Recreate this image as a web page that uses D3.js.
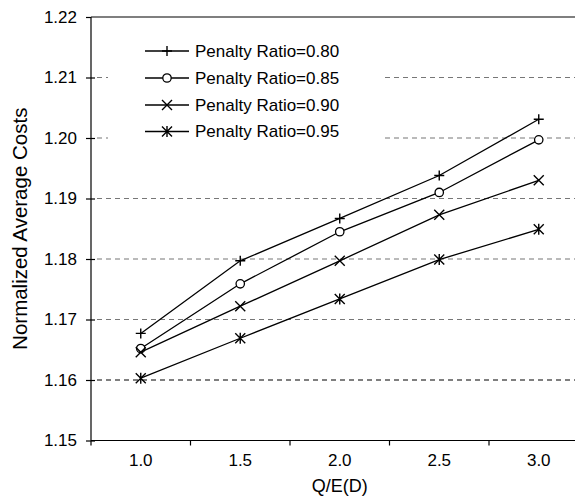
<!DOCTYPE html>
<html><head><meta charset="utf-8">
<script src="https://cdn.jsdelivr.net/npm/d3@7"></script>
<style>body{margin:0;background:#fff}svg{display:block;font-family:"Liberation Sans",Arial,sans-serif}</style>
</head><body><svg id="c" width="575" height="499"></svg>
<script>
const categories = ["1.0","1.5","2.0","2.5","3.0"];
const seriesNames = ["Penalty Ratio=0.80","Penalty Ratio=0.85","Penalty Ratio=0.90","Penalty Ratio=0.95"];
const markers = ["plus","circle","cross","star"];
const s080 = [1.1677,1.1797,1.1867,1.1938,1.2031];
const s085 = [1.1652,1.1759,1.1845,1.1910,1.1997];
const s090 = [1.1646,1.1722,1.1797,1.1873,1.1930];
const s095 = [1.1603,1.1669,1.1734,1.1799,1.1849];
const yTicks = [1.15,1.16,1.17,1.18,1.19,1.20,1.21,1.22];
const series = [s080,s085,s090,s095];

const svg = d3.select("#c");
const L=91, R=588.5, T=17, B=440.5;
const x = d3.scaleBand().domain(categories).range([L,R]).padding(0);
const y = d3.scaleLinear().domain([1.15,1.22]).range([B,T]);

// gridlines
svg.append("g").selectAll("line").data(yTicks.filter(v=>v>1.15&&v<1.22)).join("line")
  .attr("x1",L+6).attr("x2",575).attr("y1",d=>y(d)).attr("y2",d=>y(d))
  .attr("stroke",d=>Math.abs(d-1.16)<1e-9?"#000":"#777").attr("stroke-width",1.2)
  .attr("stroke-dasharray","5,4");

// frame lines
svg.append("line").attr("x1",L).attr("x2",575).attr("y1",T).attr("y2",T).attr("stroke","#000").attr("stroke-width",1.2);
svg.append("line").attr("x1",L).attr("x2",575).attr("y1",B).attr("y2",B).attr("stroke","#000").attr("stroke-width",1.2);
svg.append("line").attr("x1",L).attr("x2",L).attr("y1",T).attr("y2",B).attr("stroke","#000").attr("stroke-width",1.2);

// y axis ticks & labels
const ya = svg.append("g").attr("transform",`translate(${L},0)`)
  .call(d3.axisLeft(y).tickValues(yTicks).tickFormat(d3.format(".2f")).tickSize(0).tickPadding(14));
ya.select(".domain").remove();
ya.selectAll("text").attr("font-size",17).attr("fill","#000").style("font-family","Liberation Sans, Arial, sans-serif");
ya.selectAll(".tick").append("line").attr("x1",-5).attr("x2",d=>Math.abs(d-1.22)<1e-9?0:4).attr("stroke","#000").attr("stroke-width",1.2);

// x axis labels
const xa = svg.append("g").attr("transform",`translate(0,${B})`)
  .call(d3.axisBottom(x).tickSize(0).tickPadding(13));
xa.select(".domain").remove();
xa.selectAll("text").attr("font-size",17).attr("fill","#000").style("font-family","Liberation Sans, Arial, sans-serif");
svg.append("g").selectAll("line").data(categories).join("line")
  .attr("x1",d=>x(d)).attr("x2",d=>x(d)).attr("y1",B).attr("y2",B+5).attr("stroke","#000").attr("stroke-width",1.2);

// axis titles
svg.append("text").attr("x",(L+R)/2).attr("y",492).attr("text-anchor","middle").attr("font-size",18).text("Q/E(D)");
svg.append("text").attr("transform",`translate(27,${(T+B)/2}) rotate(-90)`).attr("text-anchor","middle").attr("font-size",20.5).text("Normalized Average Costs");

function marker(g, type, cx, cy){
  const s=5;
  if(type==="plus"){
    g.append("path").attr("d",`M${cx-s},${cy}H${cx+s}M${cx},${cy-s}V${cy+s}`).attr("stroke","#000").attr("stroke-width",1.4);
  } else if(type==="circle"){
    g.append("circle").attr("cx",cx).attr("cy",cy).attr("r",4.2).attr("fill","#fff").attr("stroke","#000").attr("stroke-width",1.3);
  } else if(type==="cross"){
    g.append("path").attr("d",`M${cx-s},${cy-s}L${cx+s},${cy+s}M${cx-s},${cy+s}L${cx+s},${cy-s}`).attr("stroke","#000").attr("stroke-width",1.4);
  } else {
    g.append("path").attr("d",`M${cx-s},${cy-s}L${cx+s},${cy+s}M${cx-s},${cy+s}L${cx+s},${cy-s}M${cx},${cy-s-0.5}V${cy+s+0.5}`).attr("stroke","#000").attr("stroke-width",1.4);
  }
}

const cx = d => x(d)+x.bandwidth()/2;
const line = d3.line().x((v,i)=>cx(categories[i])).y(v=>y(v));
series.forEach((vals,k)=>{
  const g = svg.append("g");
  g.append("path").attr("d",line(vals)).attr("fill","none").attr("stroke","#000").attr("stroke-width",1.3);
  vals.forEach((v,i)=>marker(g,markers[k],cx(categories[i]),y(v)));
});

// legend
const lg = svg.append("g");
lg.append("rect").attr("x",108).attr("y",32).attr("width",274).attr("height",116).attr("fill","#fff");
const rowY = [51,78,105,131.5];
seriesNames.forEach((n,k)=>{
  lg.append("line").attr("x1",145).attr("x2",189).attr("y1",rowY[k]).attr("y2",rowY[k]).attr("stroke","#000").attr("stroke-width",1.3);
  marker(lg,markers[k],167,rowY[k]);
  lg.append("text").attr("x",195).attr("y",rowY[k]).attr("dy","0.35em").attr("font-size",17).text(n);
});
</script></body></html>
